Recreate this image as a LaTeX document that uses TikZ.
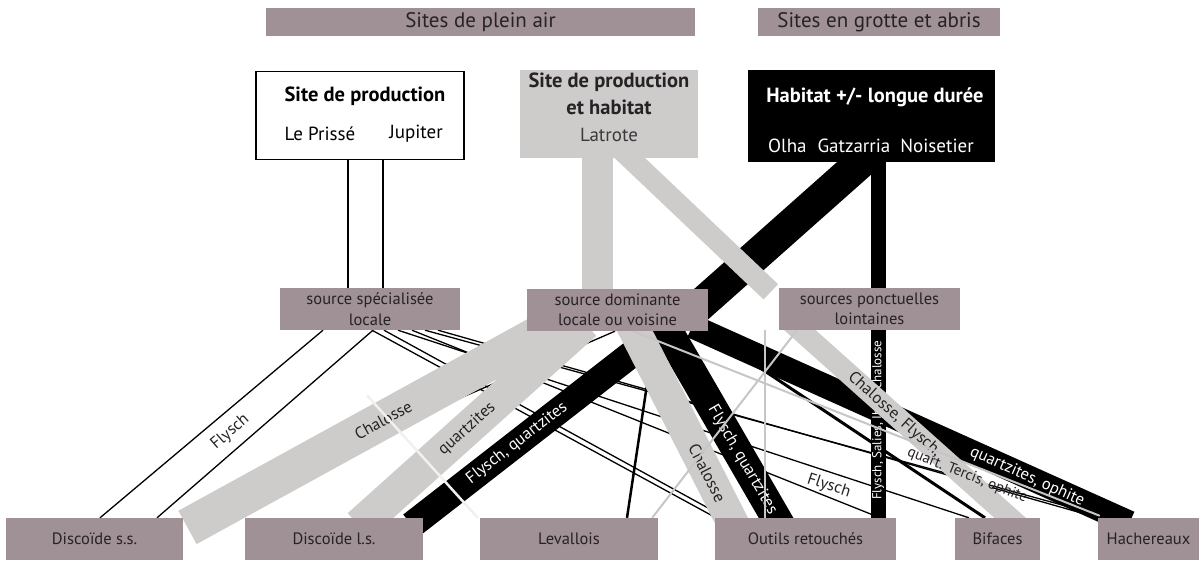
\documentclass[tikz,border=0pt]{standalone}
\usepackage{fontspec}
\setmainfont{PT Sans}
\usetikzlibrary{calc}
\definecolor{taupe}{RGB}{159,145,150}
\definecolor{lgray}{RGB}{205,204,202}
\definecolor{tline}{RGB}{198,198,198}
\definecolor{txt}{RGB}{38,34,38}
\pgfdeclarelayer{bg}
\pgfsetlayers{bg,main}
\begin{document}
\begin{tikzpicture}[x=1pt,y=-1pt,
  hdr/.style={fill=taupe, text=txt, minimum height=28pt, inner sep=0pt, font=\fontsize{21}{22}\selectfont},
  tbox/.style={fill=taupe, text=txt, minimum height=42pt, inner sep=0pt, align=center, font=\fontsize{16.5}{20.5}\selectfont},
  ttl/.style={font=\fontsize{20.5}{22}\selectfont\bfseries, inner sep=0pt},
  sub/.style={font=\fontsize{19}{20}\selectfont, inner sep=0pt},
  tl/.style={draw=black, line width=1.3pt},
  lt/.style={draw=tline, line width=2pt},
  bband/.style={draw=black, line width=#1, shorten <=-12pt, shorten >=-12pt},
  gband/.style={draw=lgray, line width=#1, shorten <=-12pt, shorten >=-12pt},
  lbl/.style={font=\fontsize{16.5}{16.5}\selectfont, inner sep=0.5pt, text=txt, sloped},
  wlbl/.style={font=\fontsize{16.5}{16.5}\selectfont, inner sep=0.5pt, text=white, sloped}
]
\useasboundingbox (0,0) rectangle (1201,563);

% headers
\node[hdr, minimum width=429pt] (h1) at (480.5,22) {Sites de plein air};
\node[hdr, minimum width=242pt] (h2) at (879,22) {Sites en grotte et abris};

% top boxes
\node[draw=black, line width=1.5pt, fill=white, minimum width=208pt, minimum height=88pt, inner sep=0pt] (prod) at (360,115.5) {};
\node[ttl] (prodt) at (365,96) {Site de production};
\node[sub] (prisse) at (320,134) {Le Prissé};
\node[sub] (jup) at (416,134) {Jupiter};

\node[fill=lgray, minimum width=178pt, minimum height=88pt, inner sep=0pt] (prodhab) at (609,114) {};
\node[ttl, text=txt] (prodhabt1) at (609,82) {Site de production};
\node[ttl, text=txt] (prodhabt2) at (609,107) {et habitat};
\node[sub, text=txt!90] (latrote) at (609,135) {Latrote};

\node[fill=black, minimum width=247pt, minimum height=92pt, inner sep=0pt] (hab) at (871.5,116) {};
\node[ttl, text=white] (habt) at (875,97) {Habitat +/- longue durée};
\node[sub, text=white] (habs) at (871,146) {Olha\hspace{11pt}Gatzarria\hspace{10pt}Noisetier};

% middle boxes
\node[tbox, minimum width=180pt] (ssl) at (370,309) {source spécialisée\\locale};
\node[tbox, minimum width=181pt] (sdl) at (617.5,310) {source dominante\\locale ou voisine};
\node[tbox, minimum width=181pt] (spl) at (869.5,309) {sources ponctuelles\\lointaines};

% bottom boxes
\node[tbox, minimum width=177pt] (dss) at (94.5,539) {Discoïde s.s.};
\node[tbox, minimum width=178pt] (dls) at (334,539) {Discoïde l.s.};
\node[tbox, minimum width=178pt] (lev) at (569,539) {Levallois};
\node[tbox, minimum width=181pt] (out) at (805.5,539) {Outils retouchés};
\node[tbox, minimum width=85pt] (bif) at (997.5,539) {Bifaces};
\node[tbox, minimum width=101pt] (hach) at (1148.5,539) {Hachereaux};

\begin{pgfonlayer}{bg}
% thin black lines
\draw[tl] ($(prod.south)+(-12,0)$) -- ($(ssl.north)+(-22,0)$);
\draw[tl] ($(prod.south)+(23,0)$) -- ($(ssl.north)+(13,0)$);
\draw[tl] ($(ssl.south)+(-47,0)$) -- ($(dss.north)+(5.5,0)$);
\draw[tl] ($(ssl.south)+(3,0)$) -- node[lbl, pos=0.61, above=8pt] (fly1) {Flysch} ($(dss.north)+(62.5,0)$);
\draw[tl] ($(ssl.south)+(2,0)$) -- ($(out.north)+(-89.5,0)$);
\draw[tl] ($(ssl.south)+(14,0)$) -- ($(out.north)+(-79.5,0)$);
\draw[tl] ($(ssl.south)+(28,0)$) -- node[lbl, pos=0.762, below=5pt] (fly2) {Flysch} ($(bif.north)+(-28.5,0)$);
\draw[tl] ($(ssl.south)+(42,0)$) -- ($(out.north)+(74.5,0)$);
\draw[tl] ($(ssl.south)+(55,0)$) -- ($(hach.north west)+(0,-3)$);
\draw[tl] ($(ssl.south)+(68,0)$) -- ($(hach.north west)+(4,1)$);
\draw[tl] ($(sdl.south)+(-2.5,0)$) -- ($(dss.north east)$);
\draw[tl, line width=2.5pt] ($(sdl.south)+(37.5,0)$) -- ($(lev.north)+(58,0)$);
\draw[tl, line width=3pt] ($(sdl.south)+(87.5,0)$) -- ($(bif.north)+(-12.5,0)$);

% black bands
\draw[bband=32pt] ($(hab.south)+(-10.5,0)$) -- ($(sdl.east)+(-8,-5)$);
\draw[bband=15pt] ($(hab.south)+(6.5,0)$) -- ($(spl.north)+(8.5,0)$);
\draw[bband=27pt] ($(sdl.south)+(43.5,0)$) -- node[wlbl, pos=0.6] (g1) {Flysch, quartzites} ($(dls.north)+(87,0)$);
\draw[bband=30pt] ($(sdl.south)+(50.5,0)$) -- node[wlbl, pos=0.69] (i1) {Flysch, quartzites} ($(out.north)+(-29.5,0)$);
\draw[bband=24pt] ($(sdl.south east)+(-5,0)$) -- node[wlbl, pos=0.78] (j1) {quartzites, ophite} ($(hach.north)+(-30,0)$);
\draw[bband=15pt] ($(out.north)+(72.5,0)$) -- node[wlbl, pos=0.52, font=\fontsize{13}{13}\selectfont] (n1) {Flysch, Salies, Ibos, Chalosse} ($(spl.south)+(8.5,0)$);

% light gray bands
\draw[gband=31pt] ($(prodhab.south)+(-12,0)$) -- ($(sdl.north)+(-20.5,0)$);
\draw[draw=lgray, line width=21pt, shorten <=-12pt] ($(prodhab.south)+(21,0)$) -- ($(spl.north west)+(-8,4)$);
\draw[gband=38pt, shorten >=-20pt] ($(sdl.south)+(-72.5,0)$) -- node[lbl, pos=0.476] (e1) {Chalosse} ($(dss.north)+(110.5,0)$);
\draw[gband=34pt] ($(sdl.south)+(-41.5,0)$) -- node[lbl, pos=0.524] (f1) {quartzites} ($(dls.north)+(34,0)$);
\draw[gband=32pt] ($(sdl.south)+(17.5,0)$) -- node[lbl, pos=0.76] (h1l) {Chalosse} ($(out.north)+(-75.5,0)$);
\draw[gband=21pt] ($(spl.south)+(-69.5,0)$) -- node[lbl, pos=0.45] (k1) {Chalosse, Flysch,} ($(bif.north)+(12.5,0)$);

% light thin lines
\draw[draw=white!94!black, line width=2.5pt, shorten <=88pt] ($(ssl.south)+(-62,0)$) -- ($(lev.north west)+(-2,0)$);
\draw[lt] ($(sdl.south)+(15.5,0)$) -- node[lbl, pos=0.725, below=3pt, font=\fontsize{15}{15}\selectfont] (qt) {quart. Tercis, ophite} ($(hach.north west)+(2,-2)$);
\draw[lt] ($(spl.south)+(-72.5,0)$) -- ($(lev.north east)+(-6,0)$);
\draw[lt] ($(spl.south)+(-104.5,0)$) -- ($(out.north)+(-40.5,0)$);
\end{pgfonlayer}
\end{tikzpicture}
\end{document}
